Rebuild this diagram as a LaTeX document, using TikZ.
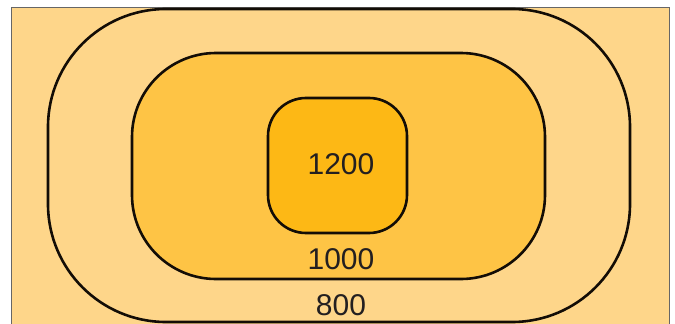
\documentclass[tikz,border=0pt]{standalone}
\usepackage{fontspec}
\setmainfont{Liberation Sans}
\definecolor{bgc}{HTML}{FED68A}
\definecolor{midc}{HTML}{FEC445}
\definecolor{inc}{HTML}{FDB815}
\definecolor{txtc}{HTML}{231F20}
\begin{document}
\begin{tikzpicture}[x=1pt,y=-1pt,
  ring/.style={draw=black!90!brown, line width=2.6pt, inner sep=0pt},
  lab/.style={text=txtc, font=\fontsize{30}{30}\selectfont, inner sep=0pt, anchor=center}]
\useasboundingbox (0,0) rectangle (675,324);
\fill[white] (0,0) rectangle (675,324);
\draw[fill=bgc, draw=black!60, line width=1pt] (11,7) rectangle (669,330);
\node[ring, fill=bgc, minimum width=582pt, minimum height=313pt, rounded corners=118pt] (outer) at (339,165.5) {};
\node[ring, fill=midc, minimum width=413pt, minimum height=226pt, rounded corners=84pt] (middle) at (338.5,166) {};
\node[ring, fill=inc, minimum width=139pt, minimum height=135pt, rounded corners=38pt] (inner) at (337.5,165.5) {};
\node[lab] (l1200) at (341,164) {1200};
\node[lab] (l1000) at (341,259) {1000};
\node[lab] (l800) at (341,305) {800};
\end{tikzpicture}
\end{document}
